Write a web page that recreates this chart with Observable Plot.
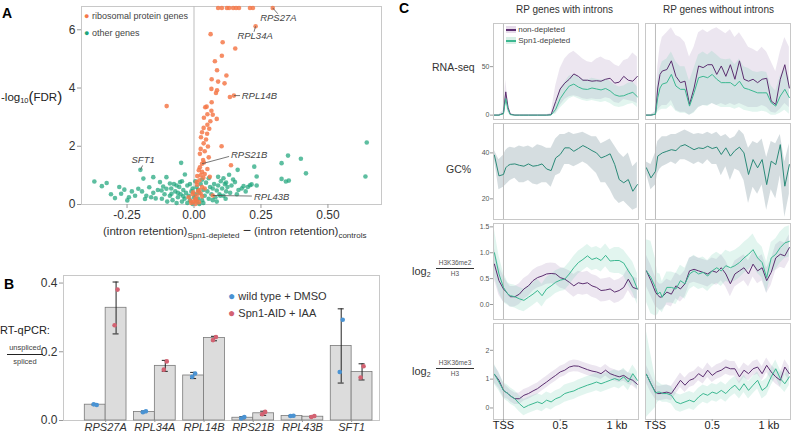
<!DOCTYPE html>
<html><head><meta charset="utf-8">
<script src="https://cdn.jsdelivr.net/npm/d3@7"></script>
<script src="https://cdn.jsdelivr.net/npm/@observablehq/plot@0.6"></script>
<style>
body{margin:0;background:#fff;}
#root{position:relative;width:792px;height:432px;overflow:hidden;font-family:"Liberation Sans",Arial,Helvetica,sans-serif;color:#333;}
.abs{position:absolute;white-space:nowrap;line-height:1;}
.plt{position:absolute;overflow:visible;}
</style></head><body>
<div id="root"></div>
<script>
// ---------- Panel A data ----------
const riboX = [0.09,0.104,0.123,0.131,0.146,0.157,0.168,0.209,0.22,0.294,0.23,
0.062,0.107,0.154,0.104,0.078,0.086,0.066,0.121,0.09,0.114,0.065,0.086,0.082,0.149,0.134,-0.102,0.042,0.066,0.047,0.065,0.05,0.037,0.07,0.085,0.061,0.05,0.036,0.057,0.03,0.049,0.026,0.045,0.036,0.052,0.103,0.025,0.04,0.022,0.055,0.034,0.037,0.03,0.138,0.022,0.05,0.018,0.03,0.04,0.025,0.012,0.035,0.059,0.02,0.01,0.07,
-0.01,0,0.005,0.01,-0.005,0.015,0.02,-0.02,0.03,0.008,0.025,-0.012,0.04,0.012,0.005,0.018,-0.003,0.03];
const riboY = [6.75,6.75,6.75,6.75,6.75,6.75,6.75,6.75,6.75,6.75,6.12,
5.85,5.57,5.36,5.11,4.92,4.61,4.30,4.43,4.22,4.16,3.97,3.92,3.83,3.74,3.69,3.38,3.34,3.51,3.36,3.22,3.10,2.98,3.08,2.94,2.86,2.74,2.63,2.60,2.48,2.43,2.31,2.23,2.10,1.99,2.0,1.91,1.83,1.74,1.62,1.53,1.44,1.40,1.35,1.28,1.22,1.18,1.12,1.05,1.0,0.98,0.92,0.95,0.83,0.77,0.31,
0.05,0.1,0.2,0.3,0.35,0.45,0.5,0.25,0.6,0.15,0.38,0.12,0.55,0.68,0.02,0.08,0.42,0.28];
const otherX = [-0.372,-0.344,-0.326,-0.2,-0.048,-0.279,-0.26,-0.232,-0.272,-0.243,-0.249,-0.208,-0.194,-0.189,-0.152,-0.167,-0.152,-0.127,-0.121,-0.103,-0.084,-0.103,-0.183,-0.143,-0.065,-0.034,-0.052,-0.31,-0.295,-0.22,-0.178,-0.16,-0.135,-0.115,-0.09,
-0.09,-0.08,-0.07,-0.06,-0.055,-0.05,-0.045,-0.04,-0.035,-0.03,-0.025,-0.02,-0.015,-0.01,-0.005,0,0.005,0.01,0.015,0.02,0.025,0.03,0.035,0.04,0.045,0.05,0.055,0.06,0.065,0.07,0.075,0.08,0.085,0.09,0.095,0.1,0.105,0.11,0.115,0.12,0.125,-0.12,-0.11,-0.1,-0.085,-0.075,-0.065,-0.045,-0.015,0.005,0.015,0.03,0.055,0.07,0.035,-0.025,0.01,-0.005,0.02,-0.06,-0.04,
0.351,0.399,0.327,0.418,0.327,0.343,0.354,0.225,0.234,0.234,0.163,0.131,0.201,0.209,0.178,0.193,0.153,0.166,0.146,0.11,0.14,0.12,0.09,0.098,0.118,0.085,0.645,0.64,0.185,0.215,0.16,0.135];
const otherY = [0.79,0.63,0.74,1.19,1.43,0.60,0.51,0.45,0.37,0.25,0.14,0.54,0.45,0.89,0.94,0.59,0.40,0.77,0.48,0.54,0.37,0.94,0.19,0.21,0.65,1.03,0.77,0.35,0.22,0.30,0.30,0.25,0.50,0.62,0.72,
0.3,0.15,0.45,0.25,0.6,0.35,0.1,0.5,0.2,0.4,0.65,0.3,0.15,0.45,0.55,0.25,0.35,0.6,0.2,0.4,0.7,0.15,0.5,0.3,0.75,0.45,0.2,0.6,0.35,0.55,0.7,0.25,0.48,0.65,0.35,0.8,0.55,0.3,0.7,0.45,0.6,0.2,0.35,0.1,0.55,0.7,0.05,0.8,0.7,0.8,0.5,0.85,0.9,0.15,0.05,0.05,0.1,0.02,0.02,0.4,0.28,
1.68,1.57,1.42,1.07,0.88,0.79,0.82,1.30,0.96,0.65,1.19,1.02,0.6,0.66,0.55,0.45,0.77,0.5,0.86,0.9,0.65,0.75,0.95,0.3,0.2,0.1,2.13,0.96,0.63,0.69,0.35,0.4];
const annGene = ["RPS27A","RPL34A","RPL14B","RPS21B","RPL43B","SFT1"];
const annPx = [0.294,0.23,0.149,0.03,0.07,-0.2];
const annPy = [6.75,6.12,3.74,1.40,0.31,1.19];
const annEx = [0.313,0.224,0.172,0.131,0.216,-0.192];
const annEy = [6.55,5.93,3.74,1.65,0.29,1.34];
const annLx = [0.315,0.228,0.178,0.138,0.224,-0.19];
const annLy = [6.40,5.80,3.74,1.70,0.27,1.52];
const annAnchor = ["middle","middle","start","start","start","middle"];

// ---------- Panel B data ----------
const genes = ["RPS27A","RPL34A","RPL14B","RPS21B","RPL43B","SFT1"];
const wtMean = [0.046,0.025,0.131,0.008,0.013,0.217];
const wtLo   = [0.044,0.023,0.122,0.005,0.011,0.109];
const wtHi   = [0.048,0.028,0.140,0.011,0.015,0.325];
const wtRep1 = [0.047,0.024,0.127,0.006,0.013,0.141];
const wtRep2 = [0.045,0.027,0.137,0.010,0.014,0.293];
const spMean = [0.328,0.159,0.240,0.021,0.011,0.141];
const spLo   = [0.252,0.143,0.232,0.015,0.009,0.118];
const spHi   = [0.403,0.175,0.245,0.027,0.013,0.165];
const spRep1 = [0.277,0.148,0.234,0.018,0.010,0.125];
const spRep2 = [0.381,0.172,0.243,0.025,0.013,0.158];

// ---------- Panel C data (position in kb relative to TSS) ----------
const kb = [-0.08,-0.04,0,0.02,0.04,0.06,0.1,0.14,0.18,0.22,0.26,0.3,0.34,0.38,0.42,0.46,0.5,0.54,0.58,0.62,0.66,0.7,0.74,0.78,0.82,0.86,0.9,0.94,0.98,1.02,1.06,1.1,1.14,1.18];
// RNA-seq, RP genes with introns
const rnaIntNd   = [0,0,2,24,8,1,0,0,0,0,0,0,0,0,0.5,14,27,33,37,42.5,40,36,36,35,35.5,35,37,38,33,34,40,36,35,40];
const rnaIntNdLo = [0,0,0,14,3,0,0,0,0,0,0,0,0,0,0,2,10,16,19,20,19,17,16,17,16,16,18,17,13,12,16,15,14,12];
const rnaIntNdHi = [0.5,0.5,5,36,14,2,0.5,0.5,0.5,0.5,0.5,0.5,0.5,0.5,2,30,48,58,63,66,62,58,55,54,58,60,57,56,52,50,56,58,64,60];
const rnaIntSd   = [0,0,1.5,17,6,0.5,0,0,0,0,0,0,0,0,0.2,6,17,24,30,32,29,27,26.5,28,27,26,27.5,25,21,19.5,20,22,23.5,19];
const rnaIntSdLo = [0,0,0,12,3,0,0,0,0,0,0,0,0,0,0,1,7,12,17,19,17,15,14,15,14,13,14,12,9,8,9,11,12,8];
const rnaIntSdHi = [0.5,0.5,3,22,9,1,0.5,0.5,0.5,0.5,0.5,0.5,0.5,0.5,1,12,27,34,40,42,39,37,36,38,37,36,37,35,31,29,30,33,34,29];
// RNA-seq, RP genes without introns
const rnaNoNd   = [0,0,1,28,42,45.5,47,56,40,33.5,35,11,28,50.7,49,52,52,42,50.7,40,52,37,56,37,35,37,33.5,37,38,14.5,11,37,52,28];
const rnaNoNdLo = [0,0,0,5,8,10,10,15,5,3,3,0,3,8,10,10,12,10,12,10,12,10,12,10,8,8,8,10,8,3,2,6,12,8];
const rnaNoNdHi = [0.5,0.5,4,50,70,80,85,90,82,80,75,60,70,85,88,85,88,90,87,84,88,80,85,78,70,68,65,70,65,55,45,65,80,70];
const rnaNoSd   = [0,0,1,18,28,32,33.5,42,30,26.6,26.6,9.3,23,38.6,40,38.6,42,37,33.5,33.5,33.5,30,35,28,26.6,24.8,23,23,23,12.8,9.3,19.7,26.6,18];
const rnaNoSdLo = [0,0,0,3,5,6,6,10,4,2,2,0,2,8,10,9,12,10,8,8,8,6,8,5,4,3,3,4,3,0,0,2,5,1];
const rnaNoSdHi = [0.5,0.5,3,35,48,55,58,65,55,50,50,35,48,62,65,62,66,62,58,57,58,52,58,50,48,45,44,45,44,30,25,40,48,38];
// GC%
const gcInt   = [39,30,30.6,33.5,34.5,35,35.2,34.6,34.2,35.2,34.2,34.5,35.2,33,32.3,37.8,39.3,42.2,42.2,40.7,41.9,43.2,42.2,41,40,37.8,38.6,39.6,35,28.4,27,28.4,23.3,26.2];
const gcIntHi = [41,37,39,41,42,42.5,42,43,42.5,43,42,43.5,43,42,42,46,48,48,49,48,48.5,49,48,47,47,44,45,46,43,40,38,40,34,36];
const gcIntLo = [37,24,25,26,27,28,29,27,27,28,26.5,26,27,27,25,30,31,35,35,34,35,36,35,33,31,27,27,24,20,18,19,17,15,16];
const gcNo    = [33.5,29.1,32,38.6,39.3,40,40.7,41.4,41,42.9,43.6,42.5,41.4,42.2,41.9,42.9,41.9,42.5,39.3,42.2,38.6,41,42.5,40,30.6,37.1,33.5,37.1,26.2,36.4,34.9,43.6,25.5,34.9];
const gcNoHi  = [36,35,40,45,46,47,47,48,48,49,50,49,48,48.5,48,49,48,49,47,48,46,47,50,48,42,45,44,46,38,45,44,48,36,44];
const gcNoLo  = [31,24,26,31,33,34,35,36,35,37,37,36,35,36,35,37,35,35,30,34,28,33,32,28,18,25,22,26,15,24,20,30,12,22];
// log2 H3K36me2/H3
const me2IntNd  = [0.78,0.46,0.3,0.25,0.2,0.15,0.15,0.2,0.3,0.36,0.46,0.52,0.55,0.59,0.6,0.59,0.52,0.49,0.43,0.36,0.42,0.4,0.42,0.36,0.33,0.27,0.28,0.3,0.24,0.27,0.33,0.49,0.33,0.3];
const me2IntNdW = [0.3,0.28,0.25,0.22,0.2,0.2,0.2,0.2,0.2,0.2,0.2,0.2,0.2,0.2,0.2,0.2,0.2,0.2,0.22,0.22,0.22,0.22,0.22,0.22,0.22,0.22,0.22,0.22,0.22,0.22,0.22,0.22,0.2,0.2];
const me2IntSd  = [1.0,0.59,0.33,0.26,0.2,0.17,0.15,0.11,0.08,0.14,0.2,0.27,0.17,0.3,0.36,0.43,0.47,0.49,0.59,0.71,0.81,0.87,0.94,0.87,0.9,0.85,0.95,0.84,0.85,0.85,0.8,0.65,0.52,0.3];
const me2IntSdW = [0.45,0.35,0.28,0.25,0.22,0.22,0.22,0.22,0.22,0.22,0.22,0.22,0.22,0.22,0.22,0.22,0.22,0.22,0.22,0.22,0.22,0.22,0.22,0.22,0.22,0.22,0.22,0.22,0.25,0.25,0.25,0.28,0.3,0.3];
const me2NoNd   = [0.65,0.46,0.24,0.18,0.14,0.15,0.24,0.2,0.36,0.3,0.4,0.65,0.68,0.65,0.62,0.59,0.65,0.62,0.71,0.59,0.4,0.59,0.65,0.71,0.59,0.78,0.65,0.71,0.46,0.62,0.9,0.97,0.94,1.1];
const me2NoNdW  = [0.3,0.3,0.28,0.25,0.25,0.25,0.25,0.25,0.25,0.25,0.25,0.25,0.25,0.25,0.25,0.25,0.25,0.25,0.25,0.25,0.25,0.25,0.25,0.25,0.25,0.25,0.25,0.25,0.25,0.25,0.25,0.25,0.25,0.25];
const me2NoSd   = [0.65,0.52,0.33,0.2,0.24,0.14,0.33,0.33,0.3,0.46,0.4,0.59,0.65,0.59,0.62,0.55,0.65,0.71,0.65,0.75,0.71,0.75,0.81,0.9,0.97,1.06,0.9,0.81,0.52,0.9,0.97,1.1,1.19,1.22];
const me2NoSdW  = [0.6,0.7,0.55,0.4,0.35,0.3,0.3,0.3,0.3,0.3,0.3,0.3,0.3,0.3,0.3,0.3,0.3,0.3,0.3,0.3,0.3,0.3,0.3,0.3,0.3,0.3,0.3,0.3,0.3,0.3,0.3,0.3,0.3,0.3];
// log2 H3K36me3/H3
const me3IntNd  = [1.17,0.96,0.61,0.55,0.5,0.42,0.32,0.32,0.44,0.5,0.59,0.67,0.79,0.9,1.02,1.13,1.25,1.31,1.42,1.46,1.45,1.39,1.33,1.28,1.25,1.19,1.31,1.19,1.13,1.08,1.13,1.02,0.96,0.82];
const me3IntNdW = [0.3,0.28,0.25,0.22,0.2,0.2,0.2,0.2,0.2,0.2,0.2,0.2,0.2,0.2,0.2,0.2,0.2,0.2,0.2,0.2,0.2,0.2,0.2,0.2,0.2,0.2,0.2,0.2,0.2,0.2,0.2,0.2,0.2,0.2];
const me3IntSd  = [1.17,0.9,0.61,0.55,0.5,0.42,0.32,0.15,0.01,0.09,0.15,0.21,0.15,0.27,0.21,0.32,0.38,0.5,0.55,0.59,0.67,0.73,0.79,0.84,0.9,0.84,0.9,0.96,1.02,0.96,1.08,0.9,1.19,0.96];
const me3IntSdW = [0.35,0.3,0.28,0.28,0.28,0.28,0.28,0.28,0.28,0.28,0.28,0.28,0.28,0.28,0.28,0.28,0.28,0.3,0.3,0.3,0.3,0.3,0.3,0.3,0.3,0.3,0.3,0.3,0.3,0.3,0.3,0.3,0.3,0.3];
const me3NoNd   = [1.17,0.84,0.55,0.5,0.5,0.52,0.55,0.5,0.73,0.96,0.79,0.96,1.02,1.19,1.08,1.31,1.13,1.25,1.31,1.42,1.36,1.36,1.08,1.31,1.19,1.36,1.42,1.19,1.48,1.25,1.08,0.96,1.42,1.19];
const me3NoNdW  = [0.3,0.3,0.25,0.25,0.25,0.25,0.25,0.25,0.25,0.25,0.25,0.25,0.25,0.25,0.25,0.25,0.25,0.25,0.25,0.25,0.25,0.25,0.25,0.25,0.25,0.25,0.25,0.25,0.25,0.25,0.25,0.25,0.25,0.25];
const me3NoSd   = [1.17,0.84,0.52,0.55,0.55,0.5,0.5,0.44,0.21,0.15,0.21,0.27,0.21,0.38,0.5,0.44,0.55,0.5,0.61,0.5,0.67,0.79,0.61,0.84,0.61,0.79,0.96,0.61,0.73,1.08,1.36,1.02,0.84,1.08];
const me3NoSdW  = [1.5,1.0,0.5,0.35,0.3,0.3,0.3,0.3,0.3,0.3,0.3,0.3,0.3,0.3,0.3,0.3,0.3,0.3,0.3,0.3,0.3,0.3,0.3,0.3,0.3,0.3,0.3,0.3,0.3,0.3,0.3,0.3,0.3,0.3];

// ---------- styling ----------
const FONT = '"Liberation Sans", Arial, Helvetica, sans-serif';
const ORANGE = "#f5794a", TEAL = "#1ea57c";
const PURPLE = "#5c2f70", PURPLE_F = "#a283b2";
const GREEN = "#3cb891", GREEN_F = "#6fcfae";
const GC_LINE = "#2b8a78", GC_F = "#b9c6cb";
const BLUE = "#4a93d3", RED = "#d36272";
const root = document.getElementById("root");

function place(el, left, top) { el.classList.add("plt"); el.style.left = left + "px"; el.style.top = top + "px"; root.appendChild(el); return el; }
function label(html, left, top, css = "") { const d = document.createElement("div"); d.className = "abs"; d.innerHTML = html; d.style.cssText += `left:${left}px;top:${top}px;` + css; root.appendChild(d); return d; }

// ---------- Panel A ----------
const ribo = riboX.map((x, i) => ({x, y: riboY[i]}));
const other = otherX.map((x, i) => ({x, y: otherY[i]}));
const ann = annGene.map((g, i) => ({g, px: annPx[i], py: annPy[i], ex: annEx[i], ey: annEy[i], lx: annLx[i], ly: annLy[i], a: annAnchor[i]}));
const A = Plot.plot({
  width: 385, height: 222, marginLeft: 81, marginRight: 4, marginTop: 6, marginBottom: 18,
  style: {fontFamily: FONT, fontSize: "12px", color: "#333", background: "transparent"},
  x: {domain: [-0.42, 0.70], axis: null},
  y: {domain: [0, 6.8], axis: null},
  marks: [
    Plot.frame({stroke: "#c8c8c8"}),
    Plot.ruleX([0], {stroke: "#bdbdbd"}),
    Plot.dot(other, {x: "x", y: "y", r: 2.3, fill: TEAL, fillOpacity: 0.72}),
    Plot.dot(ribo, {x: "x", y: "y", r: 2.3, fill: ORANGE, fillOpacity: 0.85}),
    Plot.link(ann, {x1: "px", y1: "py", x2: "ex", y2: "ey", stroke: "#555", strokeWidth: 0.8}),
    Plot.text(ann.filter(d => d.a === "middle"), {x: "lx", y: "ly", text: "g", textAnchor: "middle", fontStyle: "italic", fontSize: 9.5, fill: "#444"}),
    Plot.text(ann.filter(d => d.a === "start"), {x: "lx", y: "ly", text: "g", textAnchor: "start", fontStyle: "italic", fontSize: 9.5, fill: "#444"}),
    Plot.axisX({ticks: [-0.25, 0, 0.25, 0.5], tickFormat: d => d3.format(".2f")(d).replace("−", "-"), tickSize: 4, tickPadding: 2, stroke: "#999", label: null}),
    Plot.axisY({ticks: [0, 2, 4, 6], tickFormat: d3.format("d"), tickSize: 4, tickPadding: 2, stroke: "#999", label: null})
  ]
});
place(A, 0, 0);

// Panel A legend + labels
label(`<span style="color:${ORANGE};font-size:9px">●</span> ribosomal protein genes`, 84, 12, "font-size:9px;color:#444");
label(`<span style="color:${TEAL};font-size:9px">●</span> other genes`, 84, 29, "font-size:9px;color:#444");
label(`-log<sub style="font-size:7.5px;vertical-align:-2px">10</sub><span style="font-size:15px;vertical-align:-1px">(</span>FDR<span style="font-size:15px;vertical-align:-1px">)</span>`, 1, 89, "font-size:11.5px;color:#222");
label(`(intron retention)<sub style="font-size:8px;vertical-align:-3px">Spn1-depleted</sub> <span style="font-size:14px">−</span> (intron retention)<sub style="font-size:8px;vertical-align:-3px">controls</sub>`, 103, 223, "font-size:11.5px;color:#333");

// ---------- Panel B ----------
const bars = genes.map((g, i) => ({g, wt: wtMean[i], wtLo: wtLo[i], wtHi: wtHi[i], w1: wtRep1[i], w2: wtRep2[i],
  sp: spMean[i], spLo: spLo[i], spHi: spHi[i], s1: spRep1[i], s2: spRep2[i]}));
const bandLeft = 84.3, bandRight = 372, pIn = 0.152;
const bw = (bandRight - bandLeft) / (genes.length - pIn) * (1 - pIn);
const half = bw / 2, q = bw / 4, cap = 3;
const B = Plot.plot({
  width: 385, height: 162, marginLeft: 63, marginRight: 6, marginTop: 5, marginBottom: 12,
  style: {fontFamily: FONT, fontSize: "12px", color: "#333", background: "transparent"},
  x: {domain: genes, range: [bandLeft, bandRight], paddingInner: pIn, paddingOuter: 0, round: false, axis: null},
  y: {domain: [0, 0.422], axis: null},
  marks: [
    Plot.frame({stroke: "#c8c8c8"}),
    Plot.barY(bars, {x: "g", y: "wt", insetRight: half, fill: "#dcdcdc", stroke: "#7a7a7a", strokeWidth: 0.8}),
    Plot.barY(bars, {x: "g", y: "sp", insetLeft: half, fill: "#dcdcdc", stroke: "#7a7a7a", strokeWidth: 0.8}),
    Plot.ruleX(bars, {x: "g", y1: "wtLo", y2: "wtHi", dx: -q, stroke: "#222", strokeWidth: 1}),
    Plot.ruleX(bars, {x: "g", y1: "spLo", y2: "spHi", dx: q, stroke: "#222", strokeWidth: 1}),
    Plot.tickY(bars, {x: "g", y: "wtLo", insetLeft: q - cap, insetRight: half + q - cap, stroke: "#222"}),
    Plot.tickY(bars, {x: "g", y: "wtHi", insetLeft: q - cap, insetRight: half + q - cap, stroke: "#222"}),
    Plot.tickY(bars, {x: "g", y: "spLo", insetLeft: half + q - cap, insetRight: q - cap, stroke: "#222"}),
    Plot.tickY(bars, {x: "g", y: "spHi", insetLeft: half + q - cap, insetRight: q - cap, stroke: "#222"}),
    Plot.dot(bars, {x: "g", y: "w1", dx: -q - 1.5, r: 2.3, fill: BLUE}),
    Plot.dot(bars, {x: "g", y: "w2", dx: -q + 1.5, r: 2.3, fill: BLUE}),
    Plot.dot(bars, {x: "g", y: "s1", dx: q - 1.5, r: 2.3, fill: RED}),
    Plot.dot(bars, {x: "g", y: "s2", dx: q + 1.5, r: 2.3, fill: RED}),
    Plot.axisX({tickSize: 2, tickPadding: 1, stroke: "#999", fontStyle: "italic", fontSize: 11, label: null}),
    Plot.axisY({ticks: [0, 0.2, 0.4], tickFormat: d3.format(".1f"), tickSize: 4, tickPadding: 2, stroke: "#999", label: null})
  ]
});
place(B, 0, 270);
label(`<span style="color:${BLUE};font-size:12px">●</span> wild type + DMSO`, 228, 290, "font-size:11px;color:#333");
label(`<span style="color:${RED};font-size:12px">●</span> Spn1-AID + IAA`, 228, 307, "font-size:11px;color:#333");
label("RT-qPCR:", 0, 325, "font-size:11px;color:#222");
label(`<div style="font-size:7.5px;color:#444;padding-bottom:2px;border-bottom:1.3px solid #222;width:36px;text-align:center">unspliced</div><div style="font-size:7.5px;color:#444;padding-top:3px;text-align:center;width:36px">spliced</div>`, 7, 344);

// ---------- Panel C ----------
const XDOM = [-0.088, 1.19];
function rows(y, lo, hi) { return kb.map((x, i) => ({x, y: y[i], lo: lo[i], hi: hi[i]})); }
function rowsW(y, w) { return kb.map((x, i) => ({x, y: y[i], lo: y[i] - w[i], hi: y[i] + w[i]})); }
function cPanel({col, row, yDom, yTicks, yFmt, series}) {
  const frameLeft = col === 0 ? 493.3 : 645.3;
  const frameTops = [23, 122.5, 222.5, 323.3];
  const mL = col === 0 ? 30 : 1;
  const mB = row === 3 ? 13 : 1;
  const marks = [];
  for (const s of series) marks.push(Plot.areaY(s.data, {x: "x", y1: "lo", y2: "hi", fill: s.fill, fillOpacity: s.fo, curve: "linear", clip: true}));
  marks.push(Plot.ruleX([0], {stroke: "#bcbcbc", strokeWidth: 1}));
  for (const s of series) marks.push(Plot.lineY(s.data, {x: "x", y: "y", stroke: s.stroke, strokeWidth: 1, clip: true}));
  marks.push(Plot.frame({stroke: "#c8c8c8"}));
  if (col === 0) marks.push(Plot.axisY({ticks: yTicks, tickFormat: yFmt, tickSize: 3, tickPadding: 1, stroke: "#999", fill: "#555", fontSize: 7, label: null}));
  if (row === 3) marks.push(Plot.axisX({ticks: [0, 0.5, 1], tickFormat: d => d === 0 ? "TSS" : d === 1 ? "1 kb" : "0.5", tickSize: 2, tickPadding: 0, stroke: "#999", fill: "#222", fontSize: 11, label: null}));
  const p = Plot.plot({
    width: mL + 145 + 1, height: 1 + 96 + mB, marginLeft: mL, marginRight: 1, marginTop: 1, marginBottom: mB,
    style: {fontFamily: FONT, fontSize: "7px", color: "#555", background: "transparent"},
    x: {domain: XDOM, axis: null},
    y: {domain: yDom, axis: null},
    marks
  });
  place(p, frameLeft - mL, frameTops[row] - 1);
}
const nd = (data) => ({data, stroke: PURPLE, fill: PURPLE_F, fo: 0.2});
const sd = (data) => ({data, stroke: GREEN, fill: GREEN_F, fo: 0.2});
cPanel({col: 0, row: 0, yDom: [-4.5, 94.5], yTicks: [0, 50], yFmt: d3.format("d"),
  series: [nd(rows(rnaIntNd, rnaIntNdLo, rnaIntNdHi)), sd(rows(rnaIntSd, rnaIntSdLo, rnaIntSdHi))]});
cPanel({col: 1, row: 0, yDom: [-4.5, 94.5], yTicks: [0, 50], yFmt: d3.format("d"),
  series: [nd(rows(rnaNoNd, rnaNoNdLo, rnaNoNdHi)), sd(rows(rnaNoSd, rnaNoSdLo, rnaNoSdHi))]});
cPanel({col: 0, row: 1, yDom: [11, 52.8], yTicks: [20, 40], yFmt: d3.format("d"),
  series: [{data: rows(gcInt, gcIntLo, gcIntHi), stroke: GC_LINE, fill: GC_F, fo: 0.6}]});
cPanel({col: 1, row: 1, yDom: [11, 52.8], yTicks: [20, 40], yFmt: d3.format("d"),
  series: [{data: rows(gcNo, gcNoLo, gcNoHi), stroke: GC_LINE, fill: GC_F, fo: 0.6}]});
cPanel({col: 0, row: 2, yDom: [-0.29, 1.565], yTicks: [0, 0.5, 1, 1.5], yFmt: d3.format(".1f"),
  series: [nd(rowsW(me2IntNd, me2IntNdW)), sd(rowsW(me2IntSd, me2IntSdW))]});
cPanel({col: 1, row: 2, yDom: [-0.29, 1.565], yTicks: [0, 0.5, 1, 1.5], yFmt: d3.format(".1f"),
  series: [nd(rowsW(me2NoNd, me2NoNdW)), sd(rowsW(me2NoSd, me2NoSdW))]});
cPanel({col: 0, row: 3, yDom: [-0.4, 2.93], yTicks: [0, 1, 2], yFmt: d3.format("d"),
  series: [nd(rowsW(me3IntNd, me3IntNdW)), sd(rowsW(me3IntSd, me3IntSdW))]});
cPanel({col: 1, row: 3, yDom: [-0.4, 2.93], yTicks: [0, 1, 2], yFmt: d3.format("d"),
  series: [nd(rowsW(me3NoNd, me3NoNdW)), sd(rowsW(me3NoSd, me3NoSdW))]});

// Panel C labels
label("RP genes with introns", 516, 5, "font-size:10px;color:#333");
label("RP genes without introns", 663, 5, "font-size:10px;color:#333");
label("RNA-seq", 432, 62, "font-size:10.5px;color:#333");
label("GC%", 446, 164, "font-size:10.5px;color:#333");
function logFrac(mark, top) {
  label(`log<sub style="font-size:7px;vertical-align:-2px">2</sub>`, 412, top, "font-size:11px;color:#333");
  label(`<div style="font-size:6.5px;color:#555;padding-bottom:1px;border-bottom:1.3px solid #333;width:38px;text-align:center">${mark}</div><div style="font-size:6.5px;color:#555;padding-top:2px;text-align:center;width:38px">H3</div>`, 436, top - 6);
}
logFrac("H3K36me2", 266);
logFrac("H3K36me3", 366);
// legend in C
label(`<span style="display:inline-block;width:10px;height:7px;background:#e6dcea;position:relative;vertical-align:middle"><span style="position:absolute;left:0;top:3px;width:10px;height:1.3px;background:${PURPLE}"></span></span> non-depleted`, 506, 26, "font-size:8px;color:#444");
label(`<span style="display:inline-block;width:10px;height:7px;background:#d7f0e6;position:relative;vertical-align:middle"><span style="position:absolute;left:0;top:3px;width:10px;height:1.3px;background:${GREEN}"></span></span> Spn1-depleted`, 506, 37, "font-size:8px;color:#444");

// panel letters
label("A", 2, 6, "font-size:14px;font-weight:bold;color:#000");
label("B", 4, 277, "font-size:14px;font-weight:bold;color:#000");
label("C", 399, 1, "font-size:14px;font-weight:bold;color:#000");
</script>
</body></html>
